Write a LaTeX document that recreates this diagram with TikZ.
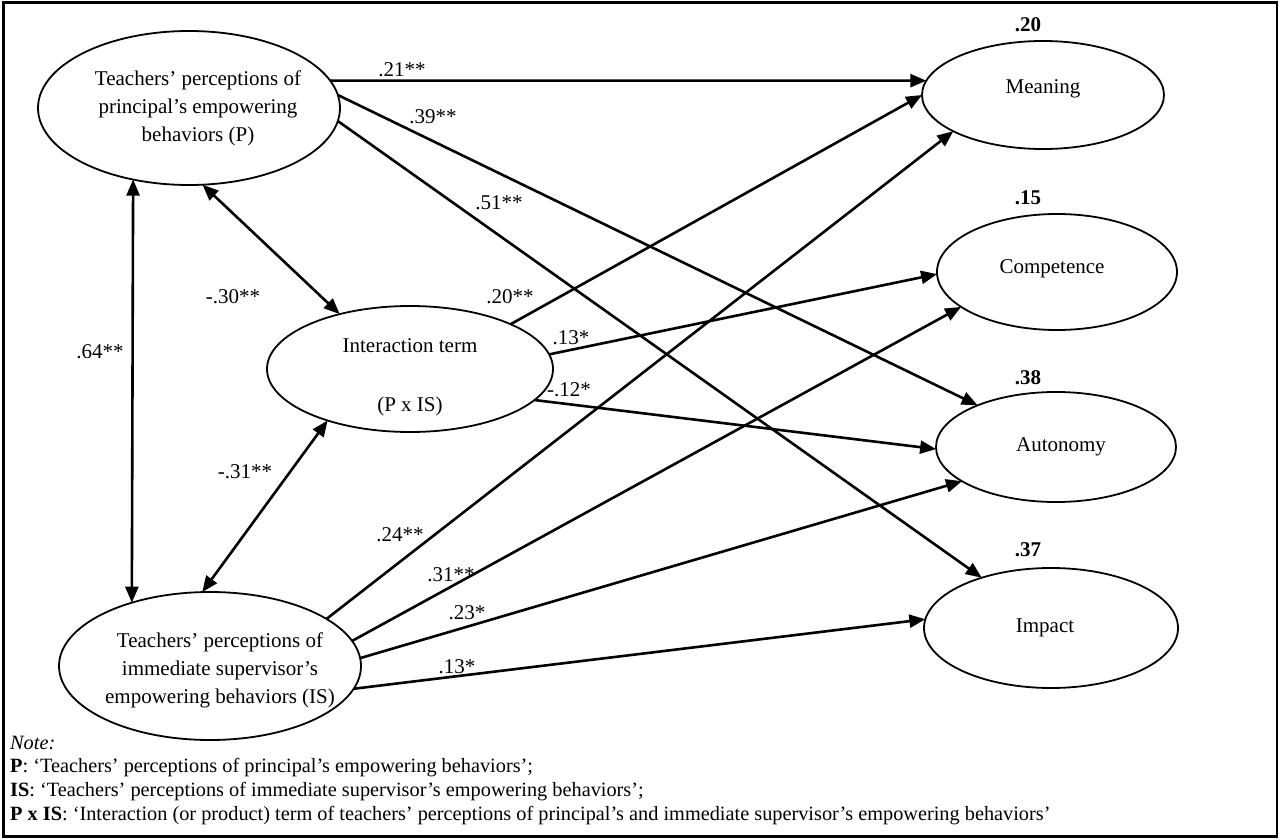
\documentclass[tikz,border=0pt]{standalone}
\usepackage{fontspec}
\setmainfont{Liberation Serif}
\usetikzlibrary{shapes.geometric,arrows.meta}
\begin{document}
\begin{tikzpicture}[x=1bp,y=-1bp,
  every node/.style={font=\fontsize{21bp}{28bp}\selectfont},
  latent/.style={ellipse,draw,line width=1.8bp,inner sep=0pt,outer sep=0pt,align=center},
  txt/.style={align=center,inner sep=0pt},
  effect/.style={line width=2.6bp,-{Triangle[length=16bp,width=13bp]}},
  cov/.style={line width=2.6bp,{Triangle[length=16bp,width=13bp]}-{Triangle[length=16bp,width=13bp]}},
  coef/.style={inner sep=0pt},
  rsq/.style={inner sep=0pt,font=\fontsize{21bp}{24bp}\selectfont\bfseries},
  note/.style={inner sep=0pt,anchor=base west,font=\fontsize{20.3bp}{23bp}\selectfont},
]
\useasboundingbox (0,0) rectangle (1280,840);
\draw[line width=2.2bp] (3.5,2.5) rectangle (1277,836.5);

% latent variables
\node[latent,minimum width=302bp,minimum height=154bp,
  label={[txt,xshift=9bp]center:Teachers’ perceptions of\\principal’s empowering\\behaviors (P)}] (P) at (189,108) {};
\node[latent,minimum width=286bp,minimum height=126bp,
  label={[txt,yshift=-8bp]center:Interaction term\\[31bp](P x IS)}] (Int) at (410,369) {};
\node[latent,minimum width=302bp,minimum height=148bp,
  label={[txt,xshift=10bp,yshift=-4bp]center:Teachers’ perceptions of\\immediate supervisor’s\\empowering behaviors (IS)}] (IS) at (210,666) {};

\node[latent,minimum width=242bp,minimum height=108bp,
  label={[txt,yshift=6bp]center:Meaning}] (Mean) at (1043,95) {};
\node[latent,minimum width=240bp,minimum height=116bp,
  label={[txt,xshift=-5bp,yshift=3bp]center:Competence}] (Comp) at (1057,272) {};
\node[latent,minimum width=240bp,minimum height=110bp,
  label={[txt,xshift=5bp]center:Autonomy}] (Aut) at (1056,447) {};
\node[latent,minimum width=254bp,minimum height=120bp,
  label={[txt,xshift=-6bp]center:Impact}] (Imp) at (1051,628) {};

% R squared
\node[rsq] (r1) at (1028,25) {.20};
\node[rsq] (r2) at (1028,198) {.15};
\node[rsq] (r3) at (1028,378) {.38};
\node[rsq] (r4) at (1028,550) {.37};

% paths
\draw[effect] (P.11) -- (Mean.173);
\draw[effect] (P.5) -- (Aut.152);
\draw[effect] (P.355) -- (Imp.144);
\draw[cov] (P.232) -- (IS.141);
\draw[cov] (P.280) -- (Int.142);
\draw[cov] (Int.212) -- (IS.96);
\draw[effect] (Int.24) -- (Mean.180);
\draw[effect] (Int.6) -- (Comp.181);
\draw[effect] (Int.346) -- (Aut.181);
\draw[effect] (IS.22) -- (Mean.202);
\draw[effect] (IS.10) -- (Comp.200);
\draw[effect] (IS.3) -- (Aut.200);
\draw[effect] (IS.351) -- (Imp.176);

% coefficients
\node[coef] (c1) at (402,70) {.21**};
\node[coef] (c2) at (433,117) {.39**};
\node[coef] (c3) at (499,203) {.51**};
\node[coef] (c4) at (100,352) {.64**};
\node[coef] (c5) at (233,297) {-.30**};
\node[coef] (c6) at (245,472) {-.31**};
\node[coef] (c7) at (510,297) {.20**};
\node[coef] (c8) at (571,338) {.13*};
\node[coef] (c9) at (569,390) {-.12*};
\node[coef] (c10) at (400,535) {.24**};
\node[coef] (c11) at (451,575) {.31**};
\node[coef] (c12) at (467,613) {.23*};
\node[coef] (c13) at (457,667) {.13*};

% note
\node[note] (n0) at (10,749) {\itshape Note:};
\node[note] (n1) at (10,772) {\textbf{P}: ‘Teachers’ perceptions of principal’s empowering behaviors’;};
\node[note] (n2) at (10,796) {\textbf{IS}: ‘Teachers’ perceptions of immediate supervisor’s empowering behaviors’;};
\node[note] (n3) at (10,820) {\textbf{P x IS}: ‘Interaction (or product) term of teachers’ perceptions of principal’s and immediate supervisor’s empowering behaviors’};
\end{tikzpicture}
\end{document}
